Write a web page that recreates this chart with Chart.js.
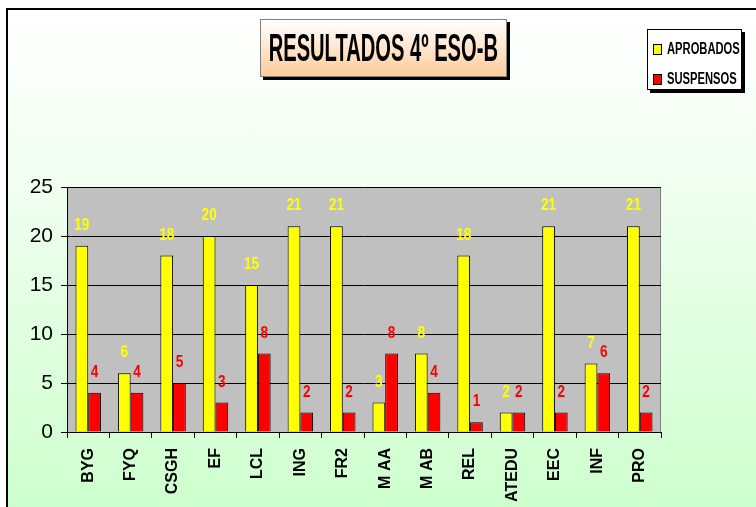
<!DOCTYPE html>
<html>
<head>
<meta charset="utf-8">
<script src="https://cdn.jsdelivr.net/npm/chart.js@4/dist/chart.umd.min.js"></script>
<style>
    html, body { margin: 0; padding: 0; background: #ffffff; }
    #marco {
        position: absolute; left: 6px; top: 8px; width: 760px; height: 510px;
        border-left: 2px solid #000; border-top: 2px solid #000;
        background: linear-gradient(to bottom, #ffffff 0%, #f0fff0 35%, #ccffcc 100%);
    }
    #grafico { position: absolute; left: 0; top: 0; }
    #titulo {
        position: absolute; left: 260px; top: 19px; width: 245px; height: 56px;
        border: 1px solid #808080;
        background: linear-gradient(to bottom, #ffffff 0%, #ffcc99 100%);
        box-shadow: 3px 3px 0 #000;
        display: flex; align-items: center; justify-content: center;
        overflow: visible;
    }
    #titulo span {
        font: bold 38px "Liberation Sans", Arial, sans-serif;
        color: #000; white-space: nowrap;
        transform: scaleX(0.53); display: inline-block;
    }
    #leyenda {
        position: absolute; left: 647px; top: 29px; width: 93px; height: 59px;
        border: 1px solid #000; background: #fff;
        box-shadow: 3px 3px 0 #000;
    }
    .item { position: absolute; left: 5px; height: 16px; white-space: nowrap; }
    .cuadro { position: absolute; left: 0; top: 3px; width: 7px; height: 9px; border: 1px solid #000; }
    .item span {
        position: absolute; left: 14px; top: -1px;
        font: bold 16px "Liberation Sans", Arial, sans-serif;
        transform: scaleX(0.70); transform-origin: left center; display: inline-block;
    }
</style>
</head>
<body>
<div id="marco"></div>
<canvas id="grafico" width="756" height="507"></canvas>
<div id="titulo"><span>RESULTADOS 4º ESO-B</span></div>
<div id="leyenda">
    <div class="item" style="top:11px"><div class="cuadro" style="background:#ffff00"></div><span>APROBADOS</span></div>
    <div class="item" style="top:41px"><div class="cuadro" style="background:#ff0000"></div><span>SUSPENSOS</span></div>
</div>
<script>
var asignaturas = ['BYG', 'FYQ', 'CSGH', 'EF', 'LCL', 'ING', 'FR2', 'M AA', 'M AB', 'REL', 'ATEDU', 'EEC', 'INF', 'PRO'];
var aprobados = [19, 6, 18, 20, 15, 21, 21, 3, 8, 18, 2, 21, 7, 21];
var suspensos = [4, 4, 5, 3, 8, 2, 2, 8, 4, 1, 2, 2, 6, 2];
var marcasY = [0, 5, 10, 15, 20, 25];

// fondo gris del area de trazado y borde superior/derecho
var fondoPlot = {
    id: 'fondoPlot',
    beforeDraw: function (chart) {
        var a = chart.chartArea, ctx = chart.ctx;
        ctx.save();
        ctx.fillStyle = '#c0c0c0';
        ctx.fillRect(a.left, a.top, a.right - a.left, a.bottom - a.top);
        ctx.strokeStyle = '#808080';
        ctx.lineWidth = 1;
        ctx.beginPath();
        ctx.moveTo(a.left, a.top + 0.5);
        ctx.lineTo(a.right - 0.5, a.top + 0.5);
        ctx.lineTo(a.right - 0.5, a.bottom);
        ctx.stroke();
        ctx.restore();
    }
};

// etiquetas de valor encima de cada barra (texto estrecho)
var etiquetas = {
    id: 'etiquetas',
    afterDatasetsDraw: function (chart) {
        var ctx = chart.ctx;
        chart.data.datasets.forEach(function (ds, i) {
            var meta = chart.getDatasetMeta(i);
            meta.data.forEach(function (bar, j) {
                ctx.save();
                ctx.translate(bar.x, bar.y - 12);
                ctx.scale(0.8, 1);
                ctx.font = 'bold 17px "Liberation Sans", Arial, sans-serif';
                ctx.textAlign = 'center';
                ctx.textBaseline = 'bottom';
                ctx.fillStyle = ds.backgroundColor;
                ctx.fillText(ds.data[j], 0, 0);
                ctx.restore();
            });
        });
    }
};

var ctx = document.getElementById('grafico').getContext('2d');
var chart = new Chart(ctx, {
    type: 'bar',
    data: {
        labels: asignaturas,
        datasets: [{
                label: 'APROBADOS',
                data: aprobados,
                backgroundColor: '#ffff00',
                borderColor: '#000000',
                borderWidth: 1
            }, {
                label: 'SUSPENSOS',
                data: suspensos,
                backgroundColor: '#ff0000',
                borderColor: '#000000',
                borderWidth: 1
            }]
    },
    options: {
        responsive: false,
        animation: false,
        categoryPercentage: 0.6,
        barPercentage: 1,
        layout: { padding: { left: 0, top: 187, right: 95, bottom: 0 } },
        plugins: {
            legend: { display: false },
            tooltip: { enabled: false }
        },
        scales: {
            x: {
                afterFit: function (scale) { scale.height = 75; },
                grid: { offset: true, drawOnChartArea: false, tickLength: 6, color: '#000000' },
                border: { color: '#000000', width: 1 },
                ticks: {
                    minRotation: 90,
                    maxRotation: 90,
                    padding: 10,
                    color: '#000000',
                    font: { family: '"Liberation Sans", Arial, sans-serif', size: 16, weight: 'bold' }
                }
            },
            y: {
                min: 0,
                max: 25,
                afterFit: function (scale) { scale.width = 67; },
                afterBuildTicks: function (scale) {
                    scale.ticks = marcasY.map(function (v) { return { value: v }; });
                },
                grid: { color: '#000000', tickLength: 6 },
                border: { color: '#000000', width: 1 },
                ticks: {
                    padding: 8,
                    color: '#000000',
                    font: { family: '"Liberation Sans", Arial, sans-serif', size: 21 }
                }
            }
        }
    },
    plugins: [fondoPlot, etiquetas]
});
</script>
</body>
</html>
